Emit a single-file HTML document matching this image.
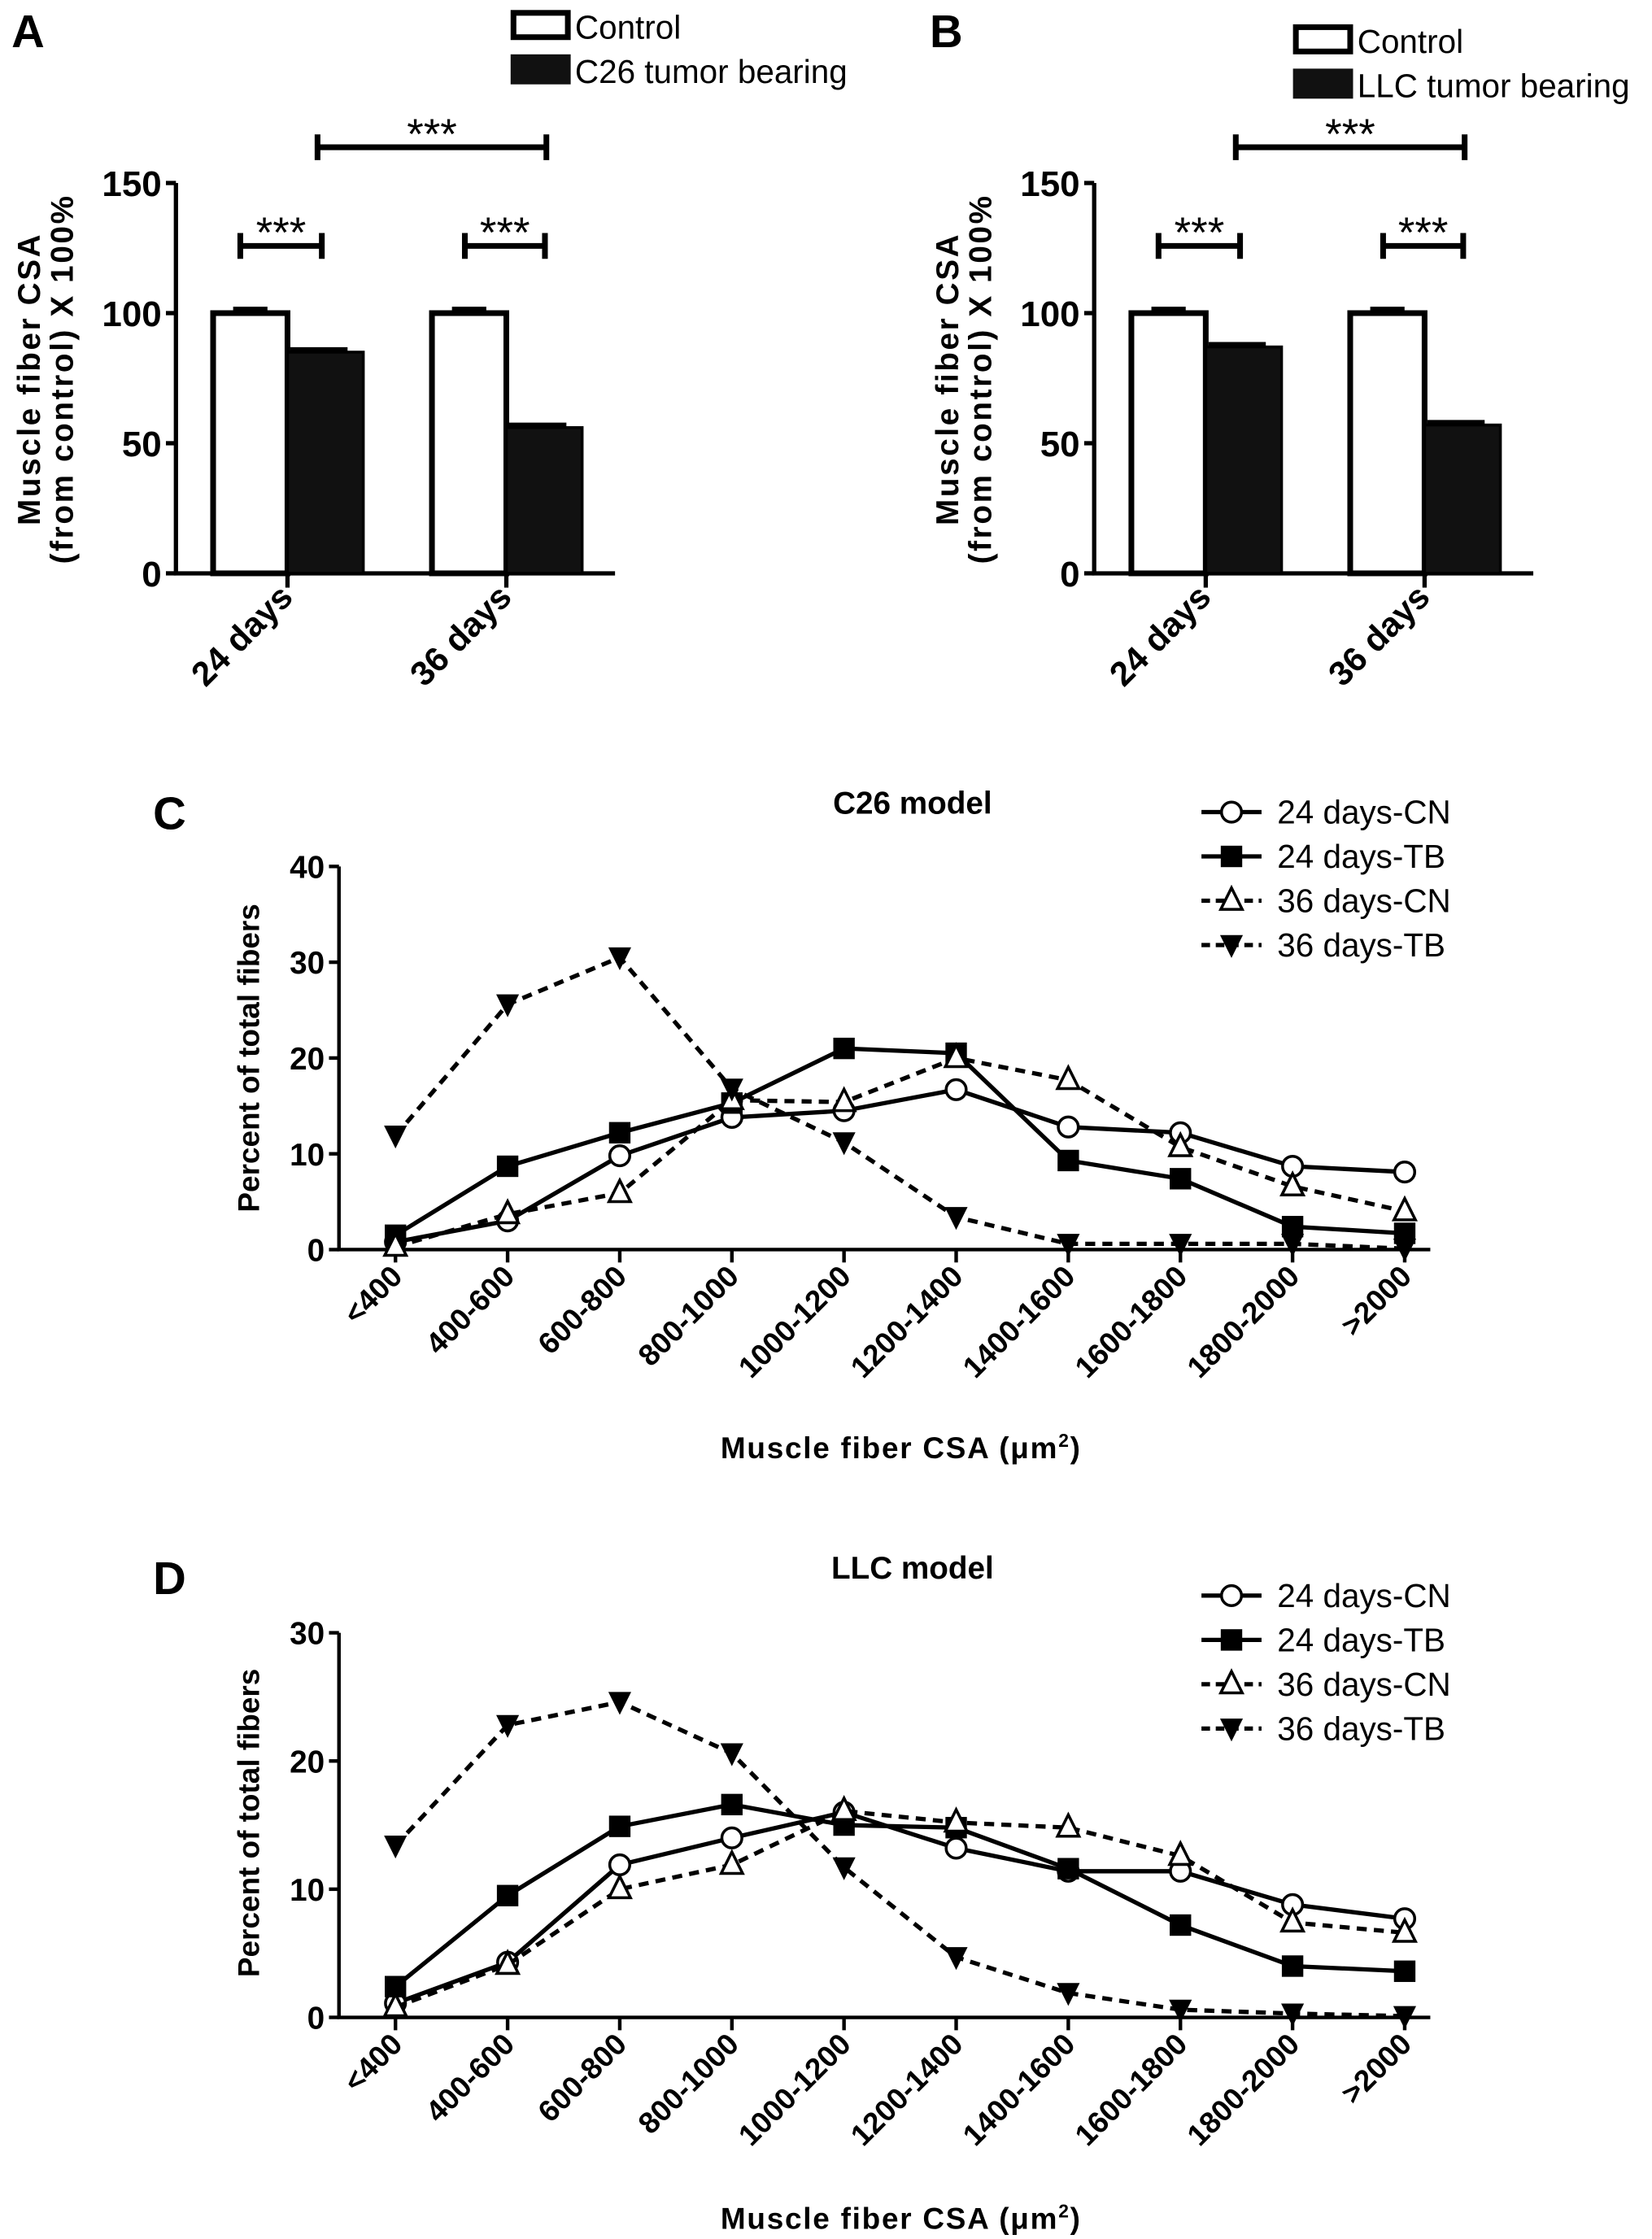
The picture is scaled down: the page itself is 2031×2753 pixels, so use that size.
<!DOCTYPE html>
<html><head><meta charset="utf-8"><style>
html,body{margin:0;padding:0;background:#fff}
svg{display:block}
text{font-family:"Liberation Sans",Arial,sans-serif;fill:#000}
.b{font-weight:bold}
</style></head><body>
<svg id="fig" width="2031" height="2753" viewBox="0 0 1155 1566" preserveAspectRatio="none" xmlns="http://www.w3.org/2000/svg">
<g id="root"></g>
</svg>
<script>
// ---- bar chart data ----
const barGroups = ["24 days", "36 days"];
const c26Control = [100, 100];
const c26Tumor = [85, 56];
const llcControl = [100, 100];
const llcTumor = [87, 57];
const barTicks = [0, 50, 100, 150];
// ---- line chart data ----
const sizeBins = ["<400","400-600","600-800","800-1000","1000-1200","1200-1400","1400-1600","1600-1800","1800-2000",">2000"];
const c26Cn24 = [0.8, 3, 9.8, 13.8, 14.5, 16.7, 12.8, 12.2, 8.7, 8.1];
const c26Tb24 = [1.5, 8.7, 12.2, 15.3, 21, 20.5, 9.3, 7.4, 2.4, 1.7];
const c26Cn36 = [0.3, 3.7, 5.9, 15.6, 15.4, 20, 17.7, 10.7, 6.6, 4];
const c26Tb36 = [11.9, 25.6, 30.5, 16.8, 11.2, 3.4, 0.6, 0.6, 0.6, 0.1];
const llcCn24 = [1.1, 4.3, 11.9, 14, 16, 13.2, 11.4, 11.4, 8.8, 7.7];
const llcTb24 = [2.4, 9.5, 14.9, 16.6, 15, 14.8, 11.6, 7.2, 4, 3.6];
const llcCn36 = [0.8, 4.1, 10, 11.9, 16.1, 15.2, 14.8, 12.6, 7.4, 6.6];
const llcTb36 = [13.4, 22.8, 24.6, 20.6, 11.7, 4.7, 1.9, 0.6, 0.3, 0.1];
const c26Ticks = [0, 10, 20, 30, 40];
const llcTicks = [0, 10, 20, 30];

const NS = "http://www.w3.org/2000/svg";
const root = document.getElementById("root");
function mk(tag, attrs, parent, txt){
  const e = document.createElementNS(NS, tag);
  for (const k in attrs) e.setAttribute(k, attrs[k]);
  if (txt !== undefined) e.textContent = txt;
  (parent || root).appendChild(e);
  return e;
}

function barPanel(ox, letter, ctrl, tumor, legendTumor, lx, ly){
  const g = mk("g", {});
  
  
  const y0 = 401, yTop = 128, vmax = 150;
  const yS = v => y0 - (v / vmax) * (y0 - yTop);
  const ax = ox + 123;
  const L = mk("text", {x: ox + 8, y: 33, "font-size": 32, class: "b"}, g, letter);
  
  
  const axis = mk("path", {d: `M${ax} ${yTop}V${y0}H${ox+430}`, stroke: "#000", "stroke-width": 3, fill: "none"}, g);
  
  
  barTicks.forEach(t => {
    mk("line", {x1: ax - 7, x2: ax, y1: yS(t), y2: yS(t), stroke: "#000", "stroke-width": 3}, g);
    const tl = mk("text", {x: ax - 10, y: yS(t) + 9, "font-size": 25, class: "b", "text-anchor": "end"}, g, t);
    
    
  });
  const yt = mk("text", {transform: `translate(${ox+28},265) rotate(-90)`, "font-size": 22, class: "b", "text-anchor": "middle", "letter-spacing": 1.5}, g);
  
  
  mk("tspan", {x: 0, dy: 0}, yt, "Muscle fiber CSA");
  mk("tspan", {x: 0, dy: 23}, yt, "(from control) X 100%");
  const gx = [ox + 201, ox + 354];
  barGroups.forEach((name, i) => {
    const c = gx[i];
    const b1 = mk("rect", {x: c - 52, y: yS(ctrl[i]), width: 52, height: y0 - yS(ctrl[i]), fill: "#fff", stroke: "#000", "stroke-width": 4}, g);
    
    
    mk("line", {x1: c - 38, x2: c - 14, y1: yS(ctrl[i]) - 3, y2: yS(ctrl[i]) - 3, stroke: "#000", "stroke-width": 3}, g);
    const b2 = mk("rect", {x: c, y: yS(tumor[i]), width: 53, height: y0 - yS(tumor[i]), fill: "#111", stroke: "#000", "stroke-width": 2}, g);
    
    
    mk("line", {x1: c + 2, x2: c + 42, y1: yS(tumor[i]) - 2, y2: yS(tumor[i]) - 2, stroke: "#000", "stroke-width": 3}, g);
    mk("line", {x1: c, x2: c, y1: y0, y2: y0 + 10, stroke: "#000", "stroke-width": 3}, g);
    const xl = mk("text", {transform: `translate(${c+5},${y0+18}) rotate(-45)`, "font-size": 24, class: "b", "text-anchor": "end"}, g, name);
    
    
  });
  function bracket(x1, x2, y){
    const p = mk("path", {d: `M${x1} ${y-9}V${y+9}M${x1} ${y}H${x2}M${x2} ${y-9}V${y+9}`, stroke: "#000", "stroke-width": 4, fill: "none"}, g);
    
    
    const s = mk("text", {x: (x1 + x2) / 2, y: y + 1, "font-size": 30, "text-anchor": "middle"}, g, "***");
    
    
  }
  bracket(ox + 168, ox + 225, 172);
  bracket(ox + 325, ox + 381, 172);
  bracket(ox + 222, ox + 382, 103);
  const lg = mk("g", {}, g);
  
  
  mk("rect", {x: lx + 2, y: ly, width: 38, height: 17, fill: "#fff", stroke: "#000", "stroke-width": 4}, lg);
  mk("text", {x: lx + 45, y: ly + 18, "font-size": 23}, lg, "Control");
  mk("rect", {x: lx, y: ly + 29, width: 42, height: 21, fill: "#111"}, lg);
  mk("text", {x: lx + 45, y: ly + 49, "font-size": 23}, lg, legendTumor);
}
barPanel(0, "A", c26Control, c26Tumor, "C26 tumor bearing", 357, 9);
barPanel(642, "B", llcControl, llcTumor, "LLC tumor bearing", 904, 19);

function marker(type, x, y, g){
  let e;
  if (type === "circle") e = mk("circle", {cx: x, cy: y, r: 7, fill: "#fff", stroke: "#000", "stroke-width": 2}, g);
  else if (type === "square") e = mk("rect", {x: x - 7.5, y: y - 7.5, width: 15, height: 15, fill: "#000"}, g);
  else if (type === "tri") e = mk("path", {d: `M${x} ${y-9}L${x+7.5} ${y+6}L${x-7.5} ${y+6}Z`, fill: "#fff", stroke: "#000", "stroke-width": 2}, g);
  else e = mk("path", {d: `M${x-8} ${y-7}L${x+8} ${y-7}L${x} ${y+9}Z`, fill: "#000"}, g);
  return e;
}

function linePanel(letter, title, ticks, vmax, y0, yTop, series, legY, titleY, xTitleY, ytY, letterY){
  const g = mk("g", {});
  
  
  const ax = 237, xEnd = 1000;
  const yS = v => y0 - (v / vmax) * (y0 - yTop);
  const xS = i => 276.5 + i * 78.4;
  const L = mk("text", {x: 107, y: letterY, "font-size": 32, class: "b"}, g, letter);
  
  
  const t = mk("text", {x: 638, y: titleY, "font-size": 22, class: "b", "text-anchor": "middle"}, g, title);
  
  
  const axis = mk("path", {d: `M${ax} ${yTop}V${y0}H${xEnd}`, stroke: "#000", "stroke-width": 2.5, fill: "none"}, g);
  
  
  ticks.forEach(v => {
    mk("line", {x1: ax - 7, x2: ax, y1: yS(v), y2: yS(v), stroke: "#000", "stroke-width": 2.5}, g);
    const tl = mk("text", {x: ax - 10, y: yS(v) + 8, "font-size": 22, class: "b", "text-anchor": "end"}, g, v);
    
    
  });
  sizeBins.forEach((b, i) => {
    mk("line", {x1: xS(i), x2: xS(i), y1: y0, y2: y0 + 9, stroke: "#000", "stroke-width": 2.5}, g);
    const xl = mk("text", {transform: `translate(${xS(i)+6},${y0+20}) rotate(-45)`, "font-size": 21, class: "b", "text-anchor": "end"}, g, b);
    
    
  });
  const yt = mk("text", {transform: `translate(181,${ytY}) rotate(-90)`, "font-size": 21, class: "b", "text-anchor": "middle"}, g, "Percent of total fibers");
  
  
  const xt = mk("text", {x: 630, y: xTitleY, "font-size": 21, class: "b", "text-anchor": "middle", "letter-spacing": 1}, g);
  
  
  mk("tspan", {}, xt, "Muscle fiber CSA (\u03bcm");
  mk("tspan", {dy: -8, "font-size": 13}, xt, "2");
  mk("tspan", {dy: 8}, xt, ")");
  series.forEach((s, k) => {
    const sg = mk("g", {}, g);
    
    
    const d = s.vals.map((v, i) => (i ? "L" : "M") + xS(i) + " " + yS(v)).join("");
    const ln = mk("path", {d, fill: "none", stroke: "#000", "stroke-width": 3, "stroke-dasharray": s.dash ? "7 5" : "none"}, sg);
    
    
    s.vals.forEach((v, i) => {
      const m = marker(s.m, xS(i), yS(v), sg);
      
      
    });
    const ly = legY + k * 31;
    const le = mk("g", {}, g);
    
    
    mk("line", {x1: 840, x2: 882, y1: ly, y2: ly, stroke: "#000", "stroke-width": 3, "stroke-dasharray": s.dash ? "6 4" : "none"}, le);
    marker(s.m, 861, ly, le);
    mk("text", {x: 893, y: ly + 8, "font-size": 23}, le, s.name);
  });
}
linePanel("C", "C26 model", c26Ticks, 40, 874, 606, [
  {name: "24 days-CN", vals: c26Cn24, m: "circle", dash: false},
  {name: "24 days-TB", vals: c26Tb24, m: "square", dash: false},
  {name: "36 days-CN", vals: c26Cn36, m: "tri", dash: true},
  {name: "36 days-TB", vals: c26Tb36, m: "dtri", dash: true}
], 568, 569, 1020, 740, 580);
linePanel("D", "LLC model", llcTicks, 30, 1411, 1142, [
  {name: "24 days-CN", vals: llcCn24, m: "circle", dash: false},
  {name: "24 days-TB", vals: llcTb24, m: "square", dash: false},
  {name: "36 days-CN", vals: llcCn36, m: "tri", dash: true},
  {name: "36 days-TB", vals: llcTb36, m: "dtri", dash: true}
], 1116, 1104, 1559, 1275, 1115);
</script>
</body></html>
